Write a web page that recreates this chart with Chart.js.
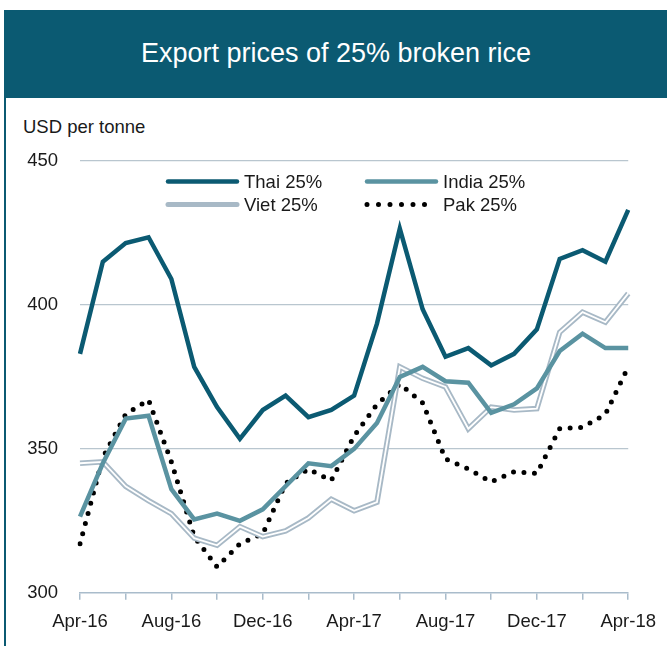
<!DOCTYPE html>
<html>
<head>
<meta charset="utf-8">
<script src="https://cdn.jsdelivr.net/npm/chart.js@4/dist/chart.umd.min.js"></script>
<style>
  html, body { margin: 0; padding: 0; background: #fff; }
  body { width: 667px; height: 646px; position: relative; overflow: hidden; font-family: "Liberation Sans", Arial, sans-serif; }
  .frame { position: absolute; left: 4px; top: 10px; width: 680px; height: 650px; border-left: 2px solid #0b5a72; }
  .banner { position: absolute; left: 4px; top: 10px; width: 680px; height: 88px; background: #0b5a72; }
  .banner h1 { margin: 0; position: absolute; left: 0; width: 664px; top: 0; line-height: 86px; text-align: center;
    color: #fff; font-weight: normal; font-size: 27px; }
  .unit { position: absolute; left: 23px; top: 116px; font-size: 18.5px; color: #1a1a1a; }
  .wrap { position: absolute; left: 0; top: 100px; width: 667px; height: 544px; }
</style>
</head>
<body>
<div class="frame"></div>
<div class="banner"><h1>Export prices of 25% broken rice</h1></div>
<div class="unit">USD per tonne</div>
<div class="wrap"><canvas id="chart"></canvas></div>
<script>
// monthly data, Apr-16 .. Apr-18
const months = ['Apr-16','May-16','Jun-16','Jul-16','Aug-16','Sep-16','Oct-16','Nov-16','Dec-16',
  'Jan-17','Feb-17','Mar-17','Apr-17','May-17','Jun-17','Jul-17','Aug-17','Sep-17','Oct-17','Nov-17','Dec-17',
  'Jan-18','Feb-18','Mar-18','Apr-18'];
const thai  = [383, 415, 421.5, 423.5, 409, 378.5, 364.5, 353.5, 363.5, 368.5, 361, 363.5, 368.5, 393.5, 426.5, 398.5, 382, 385, 379, 383, 391.5, 416, 419, 415, 433];
const india = [326.5, 345, 360.5, 361.5, 336, 325.5, 327.5, 325, 329, 337, 345, 344, 350, 359, 375, 378.5, 373.5, 373, 362.5, 365.5, 371, 384, 390, 385, 385];
const viet  = [345, 345.5, 337, 332, 327.5, 319, 316.5, 323, 319.5, 321.5, 326, 332.5, 328.5, 331.5, 378.5, 374.5, 371.5, 357, 364.5, 363.5, 364, 390.5, 397.5, 394, 404];
const pak   = [317, 347, 362, 367, 345.5, 319.5, 309, 317, 320.5, 338, 343, 339, 354.5, 365.5, 372.5, 366, 346.5, 343, 338.5, 342, 341.5, 357, 357.5, 362, 378.5];
const yTicks = [300, 350, 400, 450];

const TEAL = '#0b5a72', INDIA = '#5a93a1', VIET = '#a8b9c6', AXIS = '#a9bccb';
const FONT = { family: '"Liberation Sans", Arial, sans-serif', size: 18.5 };

// legend drawn inside the plot, two columns
const legendItems = [
  { label: 'Thai 25%',  col: 0, row: 0, color: TEAL,  width: 4.5 },
  { label: 'India 25%', col: 1, row: 0, color: INDIA, width: 4.5 },
  { label: 'Viet 25%',  col: 0, row: 1, color: VIET,  width: 5 },
  { label: 'Pak 25%',   col: 1, row: 1, color: '#000', width: 5, dots: true }
];

const insideLegend = {
  id: 'insideLegend',
  afterDatasetsDraw(chart) {
    const { ctx, chartArea } = chart;
    ctx.save();
    ctx.font = `${FONT.size}px ${FONT.family}`;
    ctx.textBaseline = 'middle';
    ctx.fillStyle = '#1a1a1a';
    legendItems.forEach(it => {
      const x0 = chartArea.left + 88 + it.col * 199;
      const x1 = x0 + 69;
      const y = chartArea.top + 20.5 + it.row * 23;
      ctx.beginPath();
      ctx.lineCap = 'round';
      ctx.strokeStyle = it.color;
      ctx.lineWidth = it.width;
      if (it.dots) ctx.setLineDash([0, 11.5]); else ctx.setLineDash([]);
      ctx.moveTo(x0, y);
      ctx.lineTo(x1, y);
      ctx.stroke();
      ctx.setLineDash([]);
      ctx.fillText(it.label, x1 + 7, y + 1);
    });
    ctx.restore();
  }
};

const line = (data, color, width, order, extra) => Object.assign({
  data, borderColor: color, borderWidth: width, pointRadius: 0, tension: 0,
  fill: false, order, borderJoinStyle: 'miter'
}, extra || {});

new Chart(document.getElementById('chart'), {
  type: 'line',
  data: {
    labels: months,
    datasets: [
      line(thai, TEAL, 4.5, 0),
      line(india, INDIA, 4.5, 1),
      line(viet, '#fff', 1.8, 2),
      line(viet, VIET, 5.5, 3),
      line(pak, '#000', 5, 4, { borderDash: [0, 10.5], borderCapStyle: 'round' })
    ]
  },
  options: {
    responsive: true,
    maintainAspectRatio: false,
    animation: false,
    layout: { padding: { top: 61, right: 38, bottom: 0, left: 0 } },
    plugins: { legend: { display: false }, tooltip: { enabled: false } },
    scales: {
      x: {
        grid: {
          drawOnChartArea: false, drawTicks: true, tickLength: 7, lineWidth: 1.5,
          tickColor: c => (c.index % 2 === 0 ? AXIS : 'rgba(0,0,0,0)')
        },
        border: { display: true, color: AXIS, width: 1.5 },
        ticks: {
          autoSkip: false, maxRotation: 0, padding: 11, color: '#1a1a1a', font: FONT,
          callback: (v, i) => (i % 4 === 0 ? months[i] : '')
        }
      },
      y: {
        min: 300, max: 450,
        afterBuildTicks: s => { s.ticks = yTicks.map(v => ({ value: v })); },
        afterFit: s => { s.width = 80; },
        grid: {
          drawTicks: false, lineWidth: 1.2,
          color: c => (c.tick && c.tick.value === 300 ? 'rgba(0,0,0,0)' : '#b9c6cf')
        },
        border: { display: false },
        ticks: { padding: 22, color: '#1a1a1a', font: FONT }
      }
    }
  },
  plugins: [insideLegend]
});
</script>
</body>
</html>
